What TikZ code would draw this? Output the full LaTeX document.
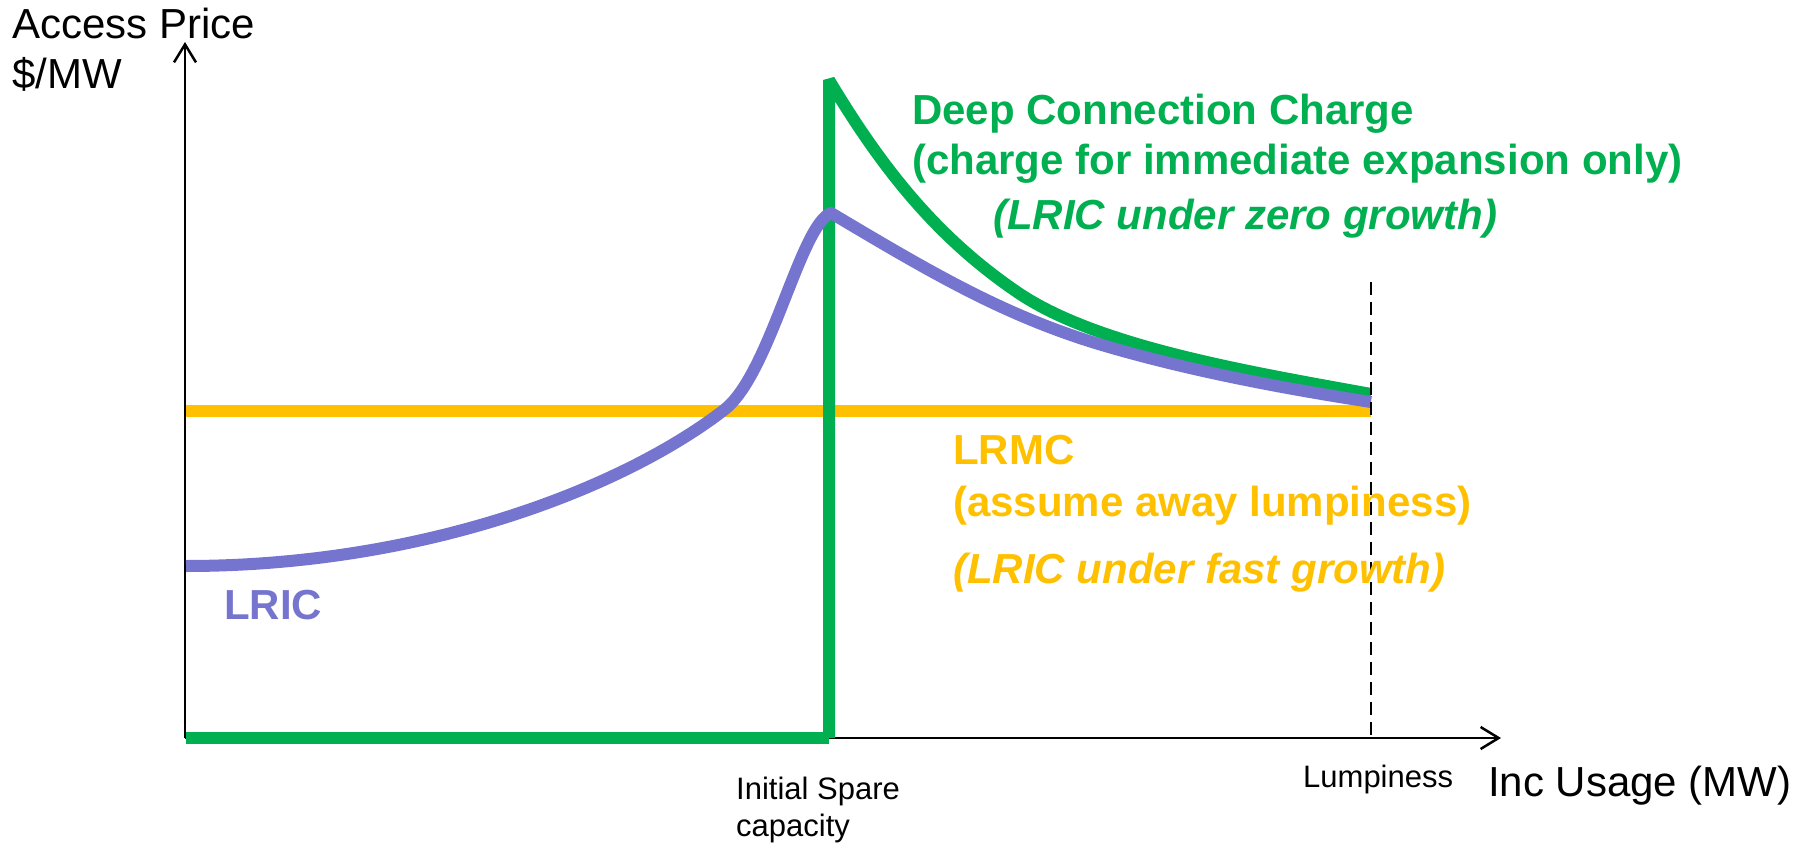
\documentclass[tikz,border=0pt]{standalone}
\usepackage{fontspec}
\setmainfont{Liberation Sans}
\usetikzlibrary{arrows.meta}
\definecolor{cgreen}{RGB}{0,176,80}
\definecolor{cyellow}{RGB}{255,192,0}
\definecolor{cpurple}{RGB}{117,117,207}
\begin{document}
\begin{tikzpicture}[x=1pt,y=-1pt,
  axis/.style={line width=2.5pt,black},
  tip/.style={-{Straight Barb[length=18pt,width=22pt,line width=2.5pt]}},
  curve/.style={line width=12pt,line cap=butt,line join=bevel},
  lbl/.style={inner sep=0pt,anchor=base west},
  bigtxt/.style={lbl,font=\fontsize{42}{50}\selectfont},
  smalltxt/.style={lbl,font=\fontsize{31}{37}\selectfont},
  boldtxt/.style={lbl,font=\fontsize{42}{50}\selectfont\bfseries},
  bitxt/.style={lbl,font=\fontsize{42}{50}\selectfont\bfseries\itshape}]
\useasboundingbox (0,0) rectangle (1802,845);
% axes
\coordinate (O) at (185,738);
\coordinate (ytop) at (185,42);
\coordinate (xend) at (1501,738);
\coordinate (dtop) at (1371,282);
\coordinate (dbot) at (1371,738);
\draw[axis,tip] (O) -- (ytop);
\draw[axis,tip] (O) -- (xend);
% LRMC
\draw[curve,cyellow] (186,411) -- (1371,411);
% Deep connection charge
\draw[curve,cgreen] (186,738) -- (829,738);
\draw[curve,cgreen] (829,738) -- (829,80)
  .. controls (880,165) and (935,237) .. (1020,294)
  .. controls (1100,347) and (1250,372) .. (1371,394);
% LRIC
\draw[curve,cpurple,line join=round] (186,566)
  .. controls (420,566) and (620,490) .. (724,410)
  .. controls (770,375) and (800,225) .. (831,213)
  .. controls (930,272) and (1000,313) .. (1092,342)
  .. controls (1180,369) and (1280,388) .. (1371,402);
\draw[dashed,line width=2pt,dash pattern=on 13pt off 7pt] (dtop) -- (dbot);
% texts
\node[bigtxt] (ap) at (12,39) {Access Price};
\node[bigtxt] (mw) at (12,89) {\$/MW};
\node[bigtxt] (inc) at (1488,796) {Inc Usage (MW)};
\node[smalltxt] (lump) at (1303,787) {Lumpiness};
\node[smalltxt] (isc1) at (736,799) {Initial Spare};
\node[smalltxt] (isc2) at (736,836) {capacity};
\node[boldtxt,text=cgreen] (dcc1) at (912,125) {Deep Connection Charge};
\node[boldtxt,text=cgreen] (dcc2) at (912,175) {(charge for immediate expansion only)};
\node[bitxt,text=cgreen] (dcc3) at (993,230) {(LRIC under zero growth)};
\node[boldtxt,text=cyellow] (lrmc1) at (953,464) {LRMC};
\node[boldtxt,text=cyellow] (lrmc2) at (953,516) {(assume away lumpiness)};
\node[bitxt,text=cyellow] (lrmc3) at (953,583) {(LRIC under fast growth)};
\node[boldtxt,text=cpurple] (lric) at (224,619) {LRIC};
\end{tikzpicture}
\end{document}
